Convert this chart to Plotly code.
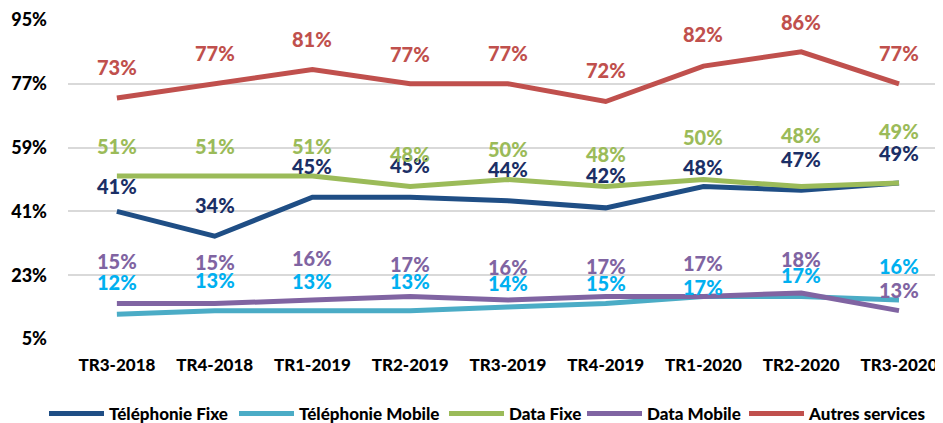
import plotly.graph_objects as go

categories = ["TR3-2018", "TR4-2018", "TR1-2019", "TR2-2019", "TR3-2019",
              "TR4-2019", "TR1-2020", "TR2-2020", "TR3-2020"]

telephonie_fixe = [41, 34, 45, 45, 44, 42, 48, 47, 49]
telephonie_mobile = [12, 13, 13, 13, 14, 15, 17, 17, 16]
data_fixe = [51, 51, 51, 48, 50, 48, 50, 48, 49]
data_mobile = [15, 15, 16, 17, 16, 17, 17, 18, 13]
autres_services = [73, 77, 81, 77, 77, 72, 82, 86, 77]

y_ticks = [5, 23, 41, 59, 77, 95]
y_tick_labels = ["5%", "23%", "41%", "59%", "77%", "95%"]

# style: (name, values, line colour, label colour, label pixel offsets, legend x px)
series = [
    ("Téléphonie Fixe", telephonie_fixe, "#1F4E85", "#1B2F66",
     [25, 31, 31, 32, 32, 33, 20, 31, 30], 36),
    ("Téléphonie Mobile", telephonie_mobile, "#4BACC6", "#00B0F0",
     [32, 31, 30, 30, 24, 21, 9, 21, 34], 226),
    ("Data Fixe", data_fixe, "#9BBB59", "#9BBB59",
     [30, 30, 30, 33, 31, 33, 43, 52, 52], 436),
    ("Data Mobile", data_mobile, "#8064A2", "#8064A2",
     [43, 42, 42, 32, 33, 30, 33, 34, 21], 574),
    ("Autres services", autres_services, "#C0504D", "#C0504D",
     [31, 31, 31, 30, 31, 32, 32, 30, 31], 736),
]

FONT = "Lato"
# the page body adds an 8px margin; the figure is shifted by it
W, H = 935, 415

fig = go.Figure()
annotations = []
legends = {}
for i, (name, vals, lc, tc, shifts, lx) in enumerate(series):
    key = "legend" if i == 0 else f"legend{i + 1}"
    fig.add_trace(go.Scatter(
        x=categories, y=vals, name=name, mode="lines", legend=key,
        line=dict(color=lc, width=5), hoverinfo="skip", showlegend=True))
    legends[key] = dict(
        orientation="h", x=lx / W, xref="container", xanchor="left",
        y=1 - 406 / H, yref="container", yanchor="middle",
        itemwidth=55, bgcolor="rgba(0,0,0,0)",
        font=dict(family=FONT, size=17, color="black", weight=900))
    for c, v, s in zip(categories, vals, shifts):
        annotations.append(dict(
            x=c, y=v, xref="x", yref="y", text=f"{v}%",
            showarrow=False, yshift=s, yanchor="middle",
            font=dict(family=FONT, size=20, color=tc, weight=900)))

fig.update_layout(
    width=W, height=H,
    margin=dict(l=60, r=0, t=12, b=84, autoexpand=False),
    paper_bgcolor="white", plot_bgcolor="white",
    font=dict(family=FONT, color="black"),
    annotations=annotations,
    showlegend=True,
    xaxis=dict(type="category", range=[-0.5, 8.45], showgrid=False,
               showline=False, zeroline=False,
               tickfont=dict(family=FONT, size=17, color="black", weight=900),
               ticklabelstandoff=14),
    yaxis=dict(range=[5, 95], tickvals=y_ticks, ticktext=y_tick_labels,
               showgrid=True, gridcolor="#D9D9D9", gridwidth=1.5,
               zeroline=False, showline=False,
               tickfont=dict(family=FONT, size=18, color="black", weight=900),
               ticklabelstandoff=20),
    **legends,
)

fig.write_html("out.html")
